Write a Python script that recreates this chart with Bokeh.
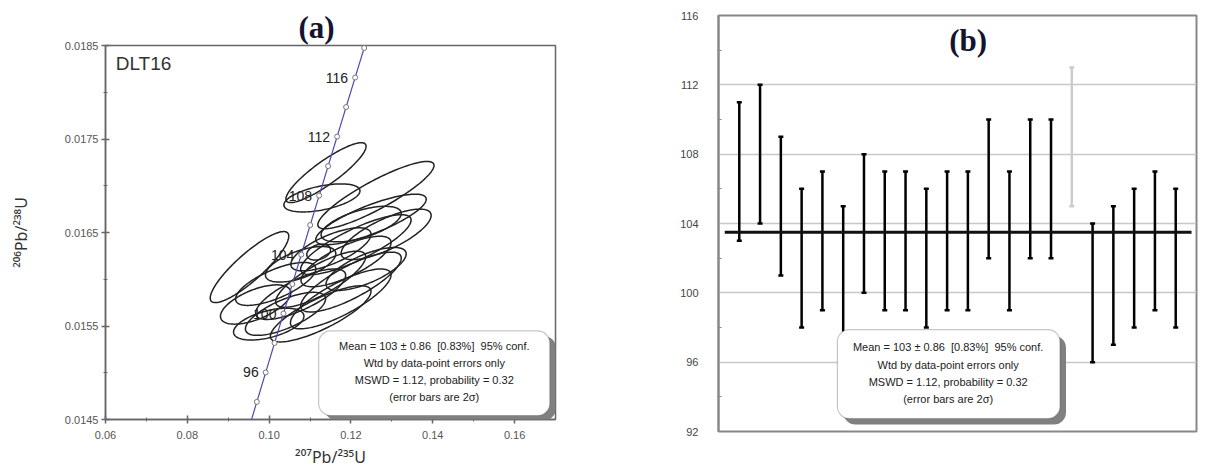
import numpy as np
from bokeh.plotting import figure
from bokeh.models import (Range1d, FixedTicker, PrintfTickFormatter, Label,
                          BoxAnnotation, ColumnDataSource)
from bokeh.core.properties import value
from bokeh.layouts import row
from bokeh.embed import file_html
from bokeh.resources import INLINE

# ---------------- data: panel (a) concordia plot ----------------
sample_name = "DLT16"
# ellipse centres (207Pb/235U, 206Pb/238U), half extents and correlation
ell_x = [0.1139, 0.1129, 0.0952, 0.1261, 0.1249, 0.1225, 0.1286, 0.1151, 0.1188, 0.1077, 0.1237,
         0.1126, 0.1200, 0.1016, 0.1077, 0.1175, 0.0967, 0.1040, 0.1126, 0.0999, 0.1212, 0.1121]
ell_y = [0.01714, 0.01687, 0.01613, 0.01690, 0.01664, 0.01659, 0.01648, 0.01632, 0.01619, 0.01616, 0.01611,
         0.01600, 0.01597, 0.01595, 0.01584, 0.01579, 0.01573, 0.01563, 0.01563, 0.01552, 0.01637, 0.01629]
ell_hx = [0.0098, 0.0093, 0.0096, 0.0142, 0.0135, 0.0098, 0.0110, 0.0098, 0.0110, 0.0086, 0.0098,
          0.0110, 0.0123, 0.0098, 0.0110, 0.0123, 0.0086, 0.0098, 0.0123, 0.0086, 0.0135, 0.0029]
ell_hy = [0.00032, 0.00015, 0.00038, 0.00036, 0.00027, 0.00019, 0.00027, 0.00023, 0.00027, 0.00019, 0.00023,
          0.00030, 0.00032, 0.00023, 0.00027, 0.00032, 0.00021, 0.00023, 0.00030, 0.00017, 0.00032, 0.000085]
ell_rho = [0.88, 0.50, 0.87, 0.88, 0.80, 0.60, 0.75, 0.70, 0.75, 0.60, 0.70,
           0.80, 0.80, 0.70, 0.75, 0.80, 0.60, 0.70, 0.80, 0.50, 0.82, 0.30]

# concordia (ages in Ma)
conc_marker_ages = [94, 96, 98, 100, 102, 104, 106, 108, 110, 112, 114, 116, 118]
conc_label_ages = [96, 100, 104, 108, 112, 116]
LAMBDA238 = 1.55125e-10
LAMBDA235 = 9.8485e-10

NB = "\u00a0"
stats_lines = ["Mean = 103 \u00b1 0.86" + NB + NB + "[0.83%]" + NB + NB + "95% conf.",
               "Wtd by data-point errors only",
               "MSWD = 1.12, probability = 0.32",
               "(error bars are 2\u03c3)"]

# ---------------- data: panel (b) weighted mean ----------------
grain = list(range(1, 23))
age_lo = [103, 104, 101, 98, 99, 97, 100, 99, 99, 98, 99, 99, 102, 99, 102, 102, 105, 96, 97, 98, 99, 98]
age_hi = [111, 112, 109, 106, 107, 105, 108, 107, 107, 106, 107, 107, 110, 107, 110, 110, 113, 104, 105, 106, 107, 106]
rejected = [17]
mean_age = 103.5
b_ticks = [92, 96, 100, 104, 108, 112, 116]
b_minor = [94, 98, 102, 106, 110, 114]

FONT = "Liberation Sans"
LABFONT = "Noto Sans"

# ======================= panel (a) =======================
pa = figure(width=608, height=470, output_backend="svg", toolbar_location=None,
            title="(a)",
            x_range=Range1d(0.06, 0.17), y_range=Range1d(0.0145, 0.0185),
            min_border_left=105, min_border_right=53, min_border_top=45, min_border_bottom=49)
pa.frame_align = False
pa.title.text_font = "Liberation Serif"
pa.title.text_font_style = "bold"
pa.title.text_font_size = "31px"
pa.title.text_color = "#141430"
pa.title.align = "left"
pa.title.offset = 193
pa.title.standoff = 1
pa.grid.visible = False
pa.outline_line_color = "#666666"
pa.outline_line_width = 1.5

pa.xaxis.ticker = FixedTicker(ticks=[0.06, 0.08, 0.10, 0.12, 0.14, 0.16],
                              minor_ticks=[0.07, 0.09, 0.11, 0.13, 0.15])
pa.xaxis.formatter = PrintfTickFormatter(format="%.2f")
pa.yaxis.ticker = FixedTicker(ticks=[0.0145, 0.0155, 0.0165, 0.0175, 0.0185],
                              minor_ticks=[0.015, 0.016, 0.017, 0.018])
pa.yaxis.formatter = PrintfTickFormatter(format="%.4f")
for ax in (pa.xaxis[0], pa.yaxis[0]):
    ax.axis_line_color = "#666666"
    ax.axis_line_width = 1.5
    ax.major_tick_line_color = "#666666"
    ax.major_tick_line_width = 1.5
    ax.minor_tick_line_color = "#666666"
    ax.major_tick_in = 4
    ax.major_tick_out = 4
    ax.minor_tick_in = 2
    ax.minor_tick_out = 2
    ax.major_label_text_font = FONT
    ax.major_label_text_font_size = "11px"
    ax.major_label_text_color = "#555555"
    ax.axis_label_text_font = LABFONT
    ax.axis_label_text_font_size = "16px"
    ax.axis_label_text_font_style = "normal"
    ax.axis_label_text_color = "#333333"
pa.xaxis.axis_label = "\u00b2\u2070\u2077Pb/\u00b2\u00b3\u2075U"
pa.xaxis.major_label_standoff = 7
pa.xaxis.axis_label_standoff = 4
pa.yaxis.axis_label = "\u00b2\u2070\u2076Pb/\u00b2\u00b3\u2078U"
pa.yaxis.major_label_standoff = 3
pa.yaxis.axis_label_standoff = 30

# ellipses
t = np.linspace(0, 2 * np.pi, 120)
xs, ys = [], []
for cx, cy, hx, hy, r in zip(ell_x, ell_y, ell_hx, ell_hy, ell_rho):
    xs.append(list(cx + hx * np.cos(t)))
    ys.append(list(cy + hy * (r * np.cos(t) + np.sqrt(1 - r * r) * np.sin(t))))
pa.patches(xs, ys, fill_color=None, line_color="#222222", line_width=1.5)

# concordia curve
ages_curve = np.linspace(90, 122, 200)
pa.line(np.exp(LAMBDA235 * ages_curve * 1e6) - 1, np.exp(LAMBDA238 * ages_curve * 1e6) - 1,
        line_color="#4a4ab8", line_width=1.2)
ma = np.array(conc_marker_ages, dtype=float)
pa.scatter(np.exp(LAMBDA235 * ma * 1e6) - 1, np.exp(LAMBDA238 * ma * 1e6) - 1,
           marker="circle", size=5, fill_color="white", line_color="#777777", line_width=1)
la = np.array(conc_label_ages, dtype=float)
src_lab = ColumnDataSource(dict(x=np.exp(LAMBDA235 * la * 1e6) - 1,
                                y=np.exp(LAMBDA238 * la * 1e6) - 1,
                                t=[str(a) for a in conc_label_ages]))
pa.text(x="x", y="y", text="t", source=src_lab, x_offset=-7, text_align="right",
        text_baseline="middle", text_font=value(FONT), text_font_size="14px", text_color="#222222")

pa.add_layout(Label(x=0.0625, y=0.01831, text=sample_name, text_font=FONT, text_font_size="19px",
                    text_color="#333333", text_baseline="middle", text_align="left"))

# stats box (a)
pa.add_layout(BoxAnnotation(left=0.1136, right=0.1701, top=0.015394, bottom=0.014490,
                            fill_color="#808080", fill_alpha=1, line_alpha=0, border_radius=12))
pa.add_layout(BoxAnnotation(left=0.1121, right=0.1686, top=0.015447, bottom=0.014543,
                            fill_color="white", fill_alpha=1, line_color="#444444",
                            line_width=1.2, border_radius=12))
for yv, s in zip([0.015287, 0.015106, 0.014926, 0.014745], stats_lines):
    pa.add_layout(Label(x=0.14037, y=yv, text=s, text_font=FONT, text_font_size="11px",
                        text_color="#222222", text_align="center", text_baseline="middle"))

# ======================= panel (b) =======================
pb = figure(width=605, height=470, output_backend="svg", toolbar_location=None,
            x_range=Range1d(0, 23), y_range=Range1d(92, 116),
            min_border_left=110, min_border_right=17, min_border_top=15, min_border_bottom=39)
pb.frame_align = False
pb.xaxis.visible = False
pb.xgrid.visible = False
pb.ygrid.grid_line_color = "#c8c8c8"
pb.ygrid.grid_line_width = 1.5
pb.ygrid.ticker = FixedTicker(ticks=b_ticks)
pb.outline_line_color = "#888888"
pb.outline_line_width = 2
pb.yaxis.ticker = FixedTicker(ticks=b_ticks, minor_ticks=b_minor)
pb.yaxis.axis_line_color = "#888888"
pb.yaxis.axis_line_width = 2
pb.yaxis.major_tick_in = 0
pb.yaxis.major_tick_out = 0
pb.yaxis.minor_tick_in = 3
pb.yaxis.minor_tick_out = 0
pb.yaxis.minor_tick_line_color = "#888888"
pb.yaxis.major_label_standoff = 20
pb.yaxis.major_label_text_font = FONT
pb.yaxis.major_label_text_font_size = "11px"
pb.yaxis.major_label_text_color = "#444444"

acc = [i for i, g in enumerate(grain) if g not in rejected]
rej = [i for i, g in enumerate(grain) if g in rejected]
gx = [grain[i] for i in acc]
pb.segment(x0=gx, x1=gx, y0=[age_lo[i] for i in acc], y1=[age_hi[i] for i in acc],
           line_color="black", line_width=2.5)
pb.scatter(gx + gx, [age_lo[i] for i in acc] + [age_hi[i] for i in acc], marker="dash",
           size=5, line_color="black", line_width=2.5)
rx = [grain[i] for i in rej]
pb.segment(x0=rx, x1=rx, y0=[age_lo[i] for i in rej], y1=[age_hi[i] for i in rej],
           line_color="#cccccc", line_width=2.5)
pb.scatter(rx + rx, [age_lo[i] for i in rej] + [age_hi[i] for i in rej], marker="dash",
           size=5, line_color="#cccccc", line_width=2.5)
pb.segment(x0=[grain[0] - 0.7], x1=[grain[-1] + 0.76], y0=[mean_age], y1=[mean_age],
           line_color="#111111", line_width=3)

pb.add_layout(Label(x=12.01, y=114.56, text="(b)", text_font="Liberation Serif",
                    text_font_style="bold", text_font_size="31px", text_color="#141430",
                    text_align="center", text_baseline="middle"))

pb.add_layout(BoxAnnotation(left=6.01, right=16.72, top=97.53, bottom=92.40,
                            fill_color="#808080", fill_alpha=1, line_alpha=0, border_radius=12))
pb.add_layout(BoxAnnotation(left=5.72, right=16.43, top=97.88, bottom=92.75,
                            fill_color="white", fill_alpha=1, line_color="#444444",
                            line_width=1.2, border_radius=12))
for yv, s in zip([96.9, 95.86, 94.88, 93.9], stats_lines):
    pb.add_layout(Label(x=11.05, y=yv, text=s, text_font=FONT, text_font_size="11px",
                        text_color="#222222", text_align="center", text_baseline="middle"))

layout = row(pa, pb)
open("out.html", "w").write(file_html(layout, INLINE))
